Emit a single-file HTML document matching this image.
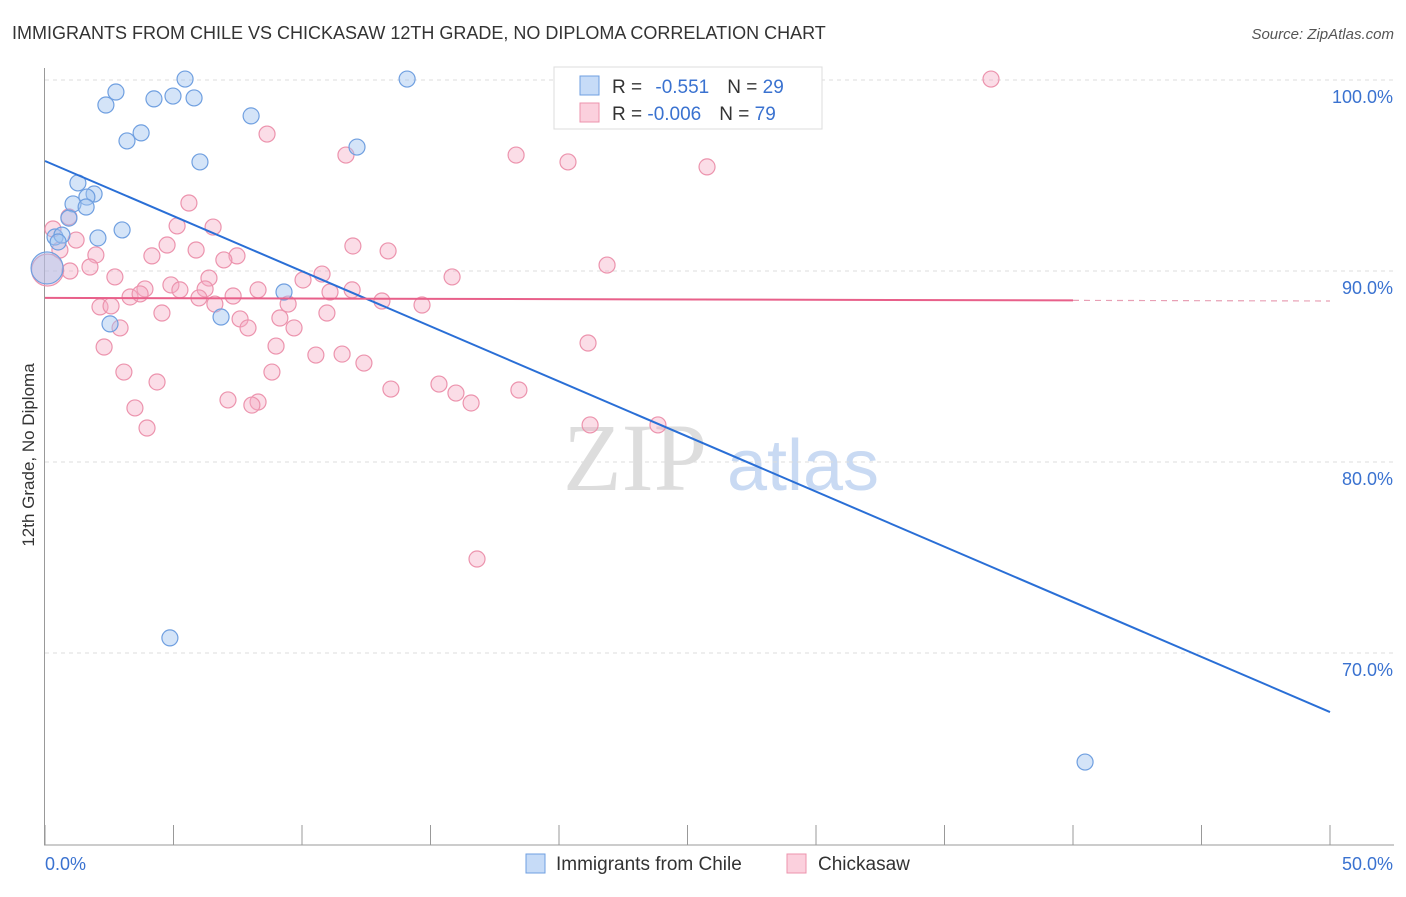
<!DOCTYPE html>
<html><head><meta charset="utf-8"><style>
body{margin:0;background:#fff;font-family:"Liberation Sans",sans-serif}
</style></head><body>
<svg id="chart" width="1406" height="892" xmlns="http://www.w3.org/2000/svg" font-family="Liberation Sans, sans-serif">
<text x="12" y="39" font-size="18" fill="#333">IMMIGRANTS FROM CHILE VS CHICKASAW 12TH GRADE, NO DIPLOMA CORRELATION CHART</text>
<text x="1394" y="39" font-size="15" fill="#555" text-anchor="end" font-style="italic">Source: ZipAtlas.com</text>
<text transform="translate(34,455) rotate(-90)" font-size="17" fill="#333" text-anchor="middle">12th Grade, No Diploma</text>
<g>
<text x="635" y="490" font-size="96" fill="#ddd" font-family="Liberation Serif, serif" text-anchor="middle">ZIP</text>
<text x="803" y="490" font-size="72" fill="#c9daf3" text-anchor="middle">atlas</text>
</g>
<g id="grid"></g><g id="axes"></g><g id="marks"></g><g id="lines"></g>
<g>
<rect x="554" y="67" width="268" height="62" fill="#fff" stroke="#ddd"/>
<rect x="580" y="76" width="19" height="19" fill="#c6dbf7" stroke="#6f9fe0"/>
<rect x="580" y="103" width="19" height="19" fill="#fbd0dd" stroke="#ec93ad"/>
<text x="612" y="93" font-size="19" fill="#333">R = <tspan fill="#3a72d0" dx="8">-0.551</tspan><tspan dx="18" fill="#333">N = </tspan><tspan fill="#3a72d0">29</tspan></text>
<text x="612" y="120" font-size="19" fill="#333">R = <tspan fill="#3a72d0">-0.006</tspan><tspan dx="18" fill="#333">N = </tspan><tspan fill="#3a72d0">79</tspan></text>
</g>
<g>
<rect x="526" y="854" width="19" height="19" fill="#c6dbf7" stroke="#6f9fe0"/>
<text x="556" y="870" font-size="19" fill="#333">Immigrants from Chile</text>
<rect x="787" y="854" width="19" height="19" fill="#fbd0dd" stroke="#ec93ad"/>
<text x="818" y="870" font-size="19" fill="#333">Chickasaw</text>
</g>
</svg>
<script>
const blueX=[2.76,2.37,5.45,4.98,4.24,5.80,14.09,8.02,3.74,3.19,12.14,6.03,1.28,1.91,1.63,1.09,1.60,0.93,3.00,2.06,0.39,0.66,0.51,0.08,9.30,6.85,2.53,4.86,40.47];
const blueY=[99.37,98.69,100.05,99.16,99.01,99.06,100.05,98.12,97.23,96.81,96.49,95.71,94.61,94.03,93.87,93.51,93.35,92.77,92.15,91.73,91.78,91.88,91.52,90.16,88.90,87.59,87.23,70.79,64.29];
const pinkX=[36.81,8.64,11.71,18.33,20.35,25.76,5.60,0.93,0.31,5.14,6.54,1.21,4.75,5.88,11.98,13.35,1.98,4.16,7.47,6.96,1.75,21.87,0.97,10.78,2.72,6.38,10.04,15.84,4.90,3.89,5.25,6.23,8.29,7.32,11.09,11.95,3.31,3.70,2.14,2.57,5.99,6.61,9.46,13.11,14.67,4.55,10.97,7.59,9.14,7.90,2.92,9.69,2.30,8.99,21.13,10.54,11.56,12.41,3.07,8.83,4.36,15.33,13.46,15.99,18.44,7.12,8.29,8.05,16.58,3.50,3.97,21.21,23.85,16.81,0.58,0.10];
const pinkY=[100.05,97.17,96.07,96.07,95.71,95.45,93.56,92.83,92.20,92.36,92.30,91.62,91.36,91.10,91.31,91.05,90.84,90.79,90.79,90.58,90.21,90.31,90.00,89.84,89.69,89.63,89.53,89.69,89.27,89.06,89.01,89.06,89.01,88.69,88.90,89.01,88.64,88.80,88.12,88.17,88.59,88.27,88.27,88.43,88.22,87.80,87.80,87.49,87.54,87.02,87.02,87.02,86.02,86.07,86.23,85.60,85.65,85.18,84.71,84.71,84.19,84.08,83.82,83.61,83.77,83.25,83.14,82.98,83.09,82.83,81.78,81.94,81.94,74.92,91.10,90.05];
const yTicks=[100,90,80,70];
const yTickLabels=["100.0%","90.0%","80.0%","70.0%"];
const xTickLabels=["0.0%","50.0%"];
const blueFit=[95.76,66.91];
const pinkFit=[88.59,88.43];
const NS="http://www.w3.org/2000/svg";
const sx=v=>45+v*25.7, sy=v=>80+(100-v)*19.1;
function mk(t,a,p){const e=document.createElementNS(NS,t);for(const k in a)e.setAttribute(k,a[k]);p.appendChild(e);return e;}
const grid=document.getElementById('grid'),axes=document.getElementById('axes'),marks=document.getElementById('marks'),lines=document.getElementById('lines');
yTicks.forEach((v,i)=>{
 const g=mk('line',{x1:45,x2:1394,y1:sy(v),y2:sy(v),stroke:'#ddd','stroke-dasharray':'4,4'},grid);
 
 
 const t=mk('text',{x:1393,y:sy(v)+23,'font-size':18,fill:'#3a72d0','text-anchor':'end'},axes);t.textContent=yTickLabels[i];
 
 
});
const ax=mk('line',{x1:44.5,x2:44.5,y1:68,y2:845,stroke:'#999'},axes);


for(let i=0;i<=10;i++){const x=sx(i*5);const t=mk('line',{x1:x,x2:x,y1:825,y2:845,stroke:'#999'},axes);
 
 }
const bx=mk('line',{x1:44,x2:1394,y1:845,y2:845,stroke:'#999'},axes);


[[0,45,'start'],[1,1393,'end']].forEach(([i,x,a])=>{const t=mk('text',{x:x,y:870,'font-size':18,fill:'#3a72d0','text-anchor':a},axes);t.textContent=xTickLabels[i];
 
 });
pinkX.forEach((x,i)=>{const c=mk('circle',{cx:sx(x),cy:sy(pinkY[i]),r:i==pinkX.length-1?16:8,fill:'rgba(246,170,195,0.4)',stroke:'#ec93ad','stroke-width':1.2},marks);
 
 });
blueX.forEach((x,i)=>{const c=mk('circle',{cx:sx(x),cy:sy(blueY[i]),r:i==23?16:8,fill:'rgba(160,195,240,0.45)',stroke:'#6f9fe0','stroke-width':1.2},marks);
 
 });
const bl=mk('line',{x1:sx(0),y1:sy(blueFit[0]),x2:sx(50),y2:sy(blueFit[1]),stroke:'#2a6fd6','stroke-width':2},lines);


const pm=pinkFit[0]+(pinkFit[1]-pinkFit[0])*0.8;
const pl=mk('line',{x1:sx(0),y1:sy(pinkFit[0]),x2:sx(40),y2:sy(pm),stroke:'#e8608a','stroke-width':2},lines);


const pd=mk('line',{x1:sx(40),y1:sy(pm),x2:sx(50),y2:sy(pinkFit[1]),stroke:'#e8a0b5','stroke-width':1.2,'stroke-dasharray':'6,5'},lines);


</script>
</body></html>
